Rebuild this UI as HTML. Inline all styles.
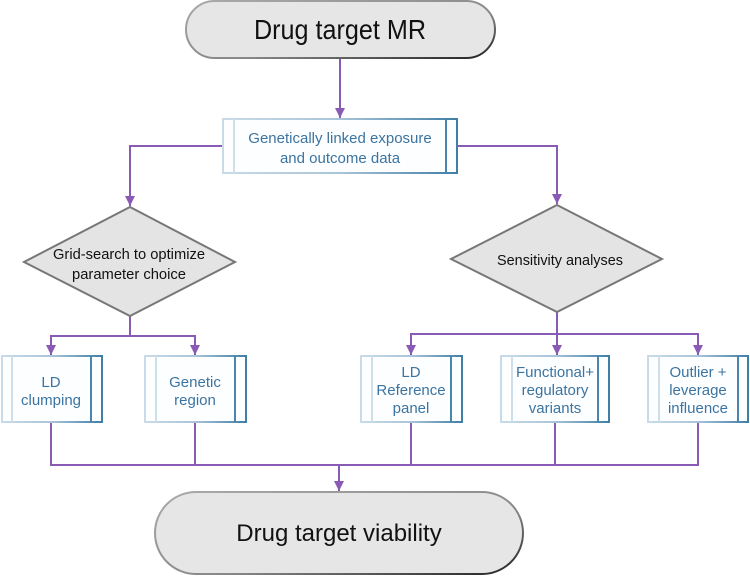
<!DOCTYPE html>
<html><head><meta charset="utf-8"><style>
html,body{margin:0;padding:0;background:#fff;}
svg{display:block;}
text{font-family:"Liberation Sans",sans-serif;}
</style></head><body>
<svg width="750" height="576" viewBox="0 0 750 576" xmlns="http://www.w3.org/2000/svg">
<defs>
<linearGradient id="bg" x1="0" y1="0" x2="1" y2="0">
<stop offset="0" stop-color="#c9dbe8"/><stop offset="0.5" stop-color="#a9c4d8"/><stop offset="1" stop-color="#3f7fa6"/>
</linearGradient>
<linearGradient id="pg" x1="0" y1="0" x2="1" y2="1">
<stop offset="0" stop-color="#aaaaaa"/><stop offset="0.6" stop-color="#888"/><stop offset="1" stop-color="#222"/>
</linearGradient>
<marker id="ar" markerWidth="12" markerHeight="12" refX="10" refY="5" orient="auto" markerUnits="userSpaceOnUse">
<path d="M0,0 L10,5 L0,10 z" fill="#8a5bb5"/>
</marker>
</defs>
<g stroke="#8a5bb5" stroke-width="2" fill="none">
<line x1="340" y1="58" x2="340" y2="118" marker-end="url(#ar)"/>
<polyline points="223,146 130,146 130,206" marker-end="url(#ar)"/>
<polyline points="457,146 557,146 557,204" marker-end="url(#ar)"/>
<line x1="130" y1="316" x2="130" y2="336"/>
<polyline points="51,345 51,336 195,336 195,345"/>
<line x1="51" y1="340" x2="51" y2="355" marker-end="url(#ar)"/>
<line x1="195" y1="340" x2="195" y2="355" marker-end="url(#ar)"/>
<line x1="557" y1="312" x2="557" y2="355" marker-end="url(#ar)"/>
<polyline points="411,345 411,334 698,334 698,345"/>
<line x1="411" y1="340" x2="411" y2="355" marker-end="url(#ar)"/>
<line x1="698" y1="340" x2="698" y2="355" marker-end="url(#ar)"/>
<polyline points="51,422 51,465 698,465 698,422"/>
<line x1="195" y1="422" x2="195" y2="465"/>
<line x1="411" y1="422" x2="411" y2="465"/>
<line x1="555" y1="422" x2="555" y2="465"/>
<line x1="339" y1="465" x2="339" y2="491" marker-end="url(#ar)"/>
</g>
<rect x="186" y="1" width="309" height="57" rx="28.5" fill="#e6e6e6" stroke="url(#pg)" stroke-width="2"/>
<text x="340" y="39" font-size="28" text-anchor="middle" fill="#111" textLength="172" lengthAdjust="spacingAndGlyphs">Drug target MR</text>
<rect x="155" y="492" width="368" height="82" rx="41" fill="#e6e6e6" stroke="url(#pg)" stroke-width="2"/>
<text x="339" y="541" font-size="24" text-anchor="middle" fill="#111">Drug target viability</text>
<g stroke-width="2" fill="#fdfeff">
<rect x="223" y="119" width="234" height="54" stroke="url(#bg)"/>
<line x1="234" y1="119" x2="234" y2="173" stroke="#cfdfea"/><line x1="446" y1="119" x2="446" y2="173" stroke="#4a86ab"/>
<rect x="2" y="356" width="100" height="66" stroke="url(#bg)"/>
<line x1="12" y1="356" x2="12" y2="422" stroke="#cfdfea"/><line x1="91" y1="356" x2="91" y2="422" stroke="#4a86ab"/>
<rect x="145" y="356" width="101" height="66" stroke="url(#bg)"/>
<line x1="156" y1="356" x2="156" y2="422" stroke="#cfdfea"/><line x1="235" y1="356" x2="235" y2="422" stroke="#4a86ab"/>
<rect x="361" y="356" width="101" height="66" stroke="url(#bg)"/>
<line x1="372" y1="356" x2="372" y2="422" stroke="#cfdfea"/><line x1="451" y1="356" x2="451" y2="422" stroke="#4a86ab"/>
<rect x="501" y="356" width="108" height="66" stroke="url(#bg)"/>
<line x1="512" y1="356" x2="512" y2="422" stroke="#cfdfea"/><line x1="598" y1="356" x2="598" y2="422" stroke="#4a86ab"/>
<rect x="648" y="356" width="100" height="66" stroke="url(#bg)"/>
<line x1="659" y1="356" x2="659" y2="422" stroke="#cfdfea"/><line x1="738" y1="356" x2="738" y2="422" stroke="#4a86ab"/>
</g>
<g fill="#3b74a0" font-size="15" text-anchor="middle">
<text x="340" y="143">Genetically linked exposure</text>
<text x="340" y="163">and outcome data</text>
<text x="51" y="387">LD</text><text x="51" y="405">clumping</text>
<text x="195" y="387">Genetic</text><text x="195" y="405">region</text>
<text x="411" y="377">LD</text><text x="411" y="395">Reference</text><text x="411" y="413">panel</text>
<text x="555" y="377">Functional+</text><text x="555" y="395">regulatory</text><text x="555" y="413">variants</text>
<text x="698" y="377">Outlier +</text><text x="698" y="395">leverage</text><text x="698" y="413">influence</text>
</g>
<polygon points="130,207 235,262 130,316 24,262" fill="#e4e4e4" stroke="#777" stroke-width="2"/>
<polygon points="557,205 662,259 557,312 451,259" fill="#e4e4e4" stroke="#777" stroke-width="2"/>
<g fill="#111" font-size="15" text-anchor="middle">
<text x="129" y="259" textLength="152" lengthAdjust="spacingAndGlyphs">Grid-search to optimize</text>
<text x="129" y="279" textLength="114" lengthAdjust="spacingAndGlyphs">parameter choice</text>
<text x="560" y="265" textLength="126" lengthAdjust="spacingAndGlyphs">Sensitivity analyses</text>
</g>
</svg>
</body></html>
